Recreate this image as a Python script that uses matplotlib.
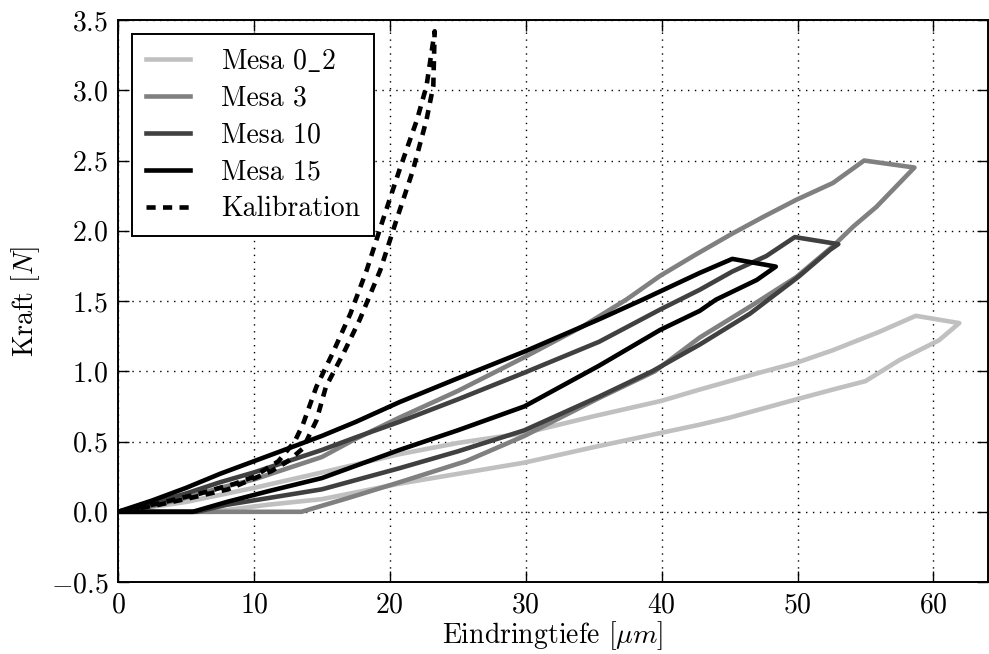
import numpy as np
import matplotlib
matplotlib.use('Agg')
import matplotlib.pyplot as plt


# ---------------- Data ---------------- #

# Mesa 0_2
mesa02_depth = [0, 5, 10, 15, 20.7, 25, 29.9, 35, 40, 42.8, 47.2, 49.9, 52.6, 56, 58.7,
                61.9, 60.4, 57.5, 55, 52.6, 49.9, 45, 42.8, 35, 29.9, 25, 20.7, 15, 11, 7, 0]
mesa02_force = [0, 0.07, 0.17, 0.28, 0.41, 0.49, 0.56, 0.68, 0.79, 0.87, 0.99, 1.06, 1.15, 1.28, 1.395,
                1.343, 1.22, 1.08, 0.93, 0.87, 0.80, 0.67, 0.62, 0.46, 0.35, 0.27, 0.20, 0.09, 0.05, 0.0, 0]

# Mesa 3
mesa3_depth = [0, 2.5, 5, 7.5, 10, 12.5, 15, 17.5, 20.7, 25, 29.9, 34.2, 37.4, 39.9, 42.5, 45.2,
               47.5, 49.9, 52.6, 54.9, 58.6, 57.7, 56.8, 55.8, 54.1, 52.6, 49.9, 46.5, 42.8, 39.5,
               35.4, 29.9, 25.6, 20.7, 17, 13.5, 0]
mesa3_force = [0, 0.04, 0.10, 0.17, 0.23, 0.31, 0.39, 0.52, 0.67, 0.86, 1.10, 1.32, 1.51, 1.68, 1.83, 1.98,
               2.10, 2.22, 2.34, 2.50, 2.45, 2.36, 2.27, 2.17, 2.03, 1.89, 1.67, 1.46, 1.24, 1.00,
               0.81, 0.54, 0.36, 0.21, 0.10, 0.0, 0]

# Mesa 10
mesa10_depth = [0, 2.5, 5, 7.5, 10, 12.5, 15, 17.5, 20.7, 25, 29.9, 35.4, 39.9, 42.8, 45.2, 47.7,
                49.8, 53, 52.4, 50.1, 46.5, 42.8, 39.3, 35.4, 29.9, 25, 20.7, 15, 11.2, 8, 5.8, 0]
mesa10_force = [0, 0.06, 0.13, 0.21, 0.28, 0.36, 0.44, 0.53, 0.64, 0.80, 0.99, 1.21, 1.44, 1.58, 1.71, 1.82,
                1.955, 1.905, 1.865, 1.675, 1.41, 1.19, 1.0, 0.82, 0.58, 0.43, 0.31, 0.16, 0.10, 0.05, 0.0, 0]

# Mesa 15
mesa15_depth = [0, 2.5, 5, 7.5, 10, 12.5, 15, 17.5, 20.7, 25, 29.9, 35.4, 38.6, 42.8, 45.2,
                48.4, 47, 44, 42.8, 39.9, 35.4, 29.9, 25, 20.7, 15, 11.2, 8, 5.5, 0]
mesa15_force = [0, 0.08, 0.17, 0.27, 0.36, 0.45, 0.54, 0.64, 0.78, 0.95, 1.14, 1.37, 1.51, 1.70, 1.80,
                1.745, 1.65, 1.51, 1.43, 1.295, 1.04, 0.75, 0.58, 0.44, 0.24, 0.15, 0.07, 0.0, 0]

# Kalibration
kal_depth = [0, 3, 6, 8.6, 10, 11.8, 13.0, 13.6, 14.6, 15.8, 17.1, 18.3, 19.5, 20.7, 22.0, 22.7,
             23.3, 23.2, 22.7, 21.7, 20.5, 19.3, 17.8, 16.6, 15.3, 14.6, 13.6, 12.5, 11.3, 8.1, 5.4, 3, 0]
kal_force = [0, 0.06, 0.13, 0.20, 0.25, 0.36, 0.50, 0.62, 0.89, 1.13, 1.41, 1.72, 2.08, 2.43, 2.79, 3.03,
             3.42, 3.03, 2.79, 2.43, 2.08, 1.72, 1.37, 1.13, 0.89, 0.65, 0.45, 0.36, 0.29, 0.16, 0.10, 0.05, 0]

labels = ['Mesa 0$\\_$2', 'Mesa 3', 'Mesa 10', 'Mesa 15', 'Kalibration']
greys = ['#c0c0c0', '#808080', '#404040', '#000000']


# ---------------- Style ---------------- #

plt.rcParams['font.family'] = 'serif'
plt.rcParams['font.serif'] = ['cmr10']
plt.rcParams['mathtext.fontset'] = 'cm'
plt.rcParams['axes.formatter.use_mathtext'] = True
plt.rcParams['font.size'] = 20


# ---------------- Plot ---------------- #

fig = plt.figure(figsize=(9.89, 6.54), dpi=100)
ax = fig.add_axes([0.1193, 0.110, 0.8795, 0.8594])

series = [(mesa02_depth, mesa02_force), (mesa3_depth, mesa3_force),
          (mesa10_depth, mesa10_force), (mesa15_depth, mesa15_force)]
for (x, y), c, lab in zip(series, greys, labels[:4]):
    ax.plot(x, y, color=c, lw=3.3, label=lab, solid_joinstyle='round')
ax.plot(kal_depth, kal_force, color='k', lw=3.3, ls=(0, (2.0, 1.6)), label=labels[4])

ax.set_xlim(0, 64)
ax.set_ylim(-0.5, 3.5)
ax.set_xticks(np.arange(0, 61, 10))
ax.set_yticks(np.arange(-0.5, 3.51, 0.5))
ax.yaxis.set_major_formatter(matplotlib.ticker.FormatStrFormatter('$%.1f$'))
ax.grid(True, color='k', ls=(0, (1, 4)), lw=1)
ax.tick_params(direction='in', length=8, width=1, top=True, right=True, pad=7)
for s in ax.spines.values():
    s.set_linewidth(1.4)

ax.set_xlabel('Eindringtiefe [$\\mu m$]', labelpad=1)
ax.set_ylabel('Kraft [$N$]', labelpad=6)

leg = ax.legend(loc='upper left', fancybox=False, framealpha=1, edgecolor='k',
                handlelength=1.6, handletextpad=1.1, labelspacing=0.38,
                borderaxespad=0.5, borderpad=0.5)
leg.get_frame().set_linewidth(1.4)

fig.savefig('out.png', dpi=100)
